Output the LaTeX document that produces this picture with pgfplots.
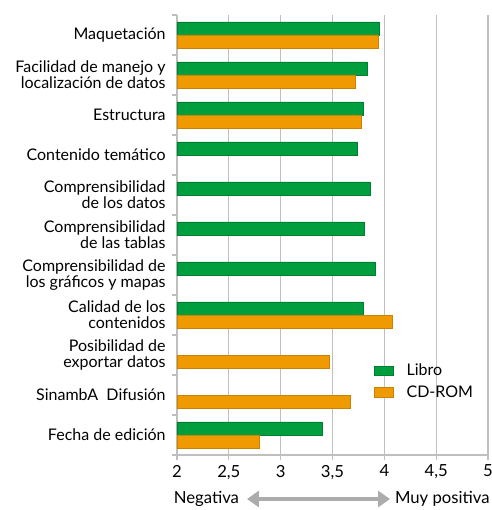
\documentclass[border=0pt]{standalone}
\usepackage{pgfplots}
\pgfplotsset{compat=1.18}
\usepackage{fontspec}
\setmainfont{Lato}
\usetikzlibrary{arrows.meta}
\definecolor{libro}{HTML}{009E3D}
\definecolor{cdrom}{HTML}{EE9A00}
\definecolor{gridg}{HTML}{BFBFBF}

\begin{document}
\begin{tikzpicture}
% canvas frame to fix the page size (492x510 px at 0.75pt/px)
\path[use as bounding box] (-132.75pt,-41.25pt) rectangle (236.25pt,341.25pt);
\begin{axis}[
    at={(0,0)}, anchor=south west,
    scale only axis, width=233.25pt, height=330pt,
    xbar, y dir=reverse,
    xmin=2, xmax=5, ymin=-0.5, ymax=10.5,
    xtick={2,2.5,...,5},
    /pgf/number format/use comma,
    /pgf/number format/assume math mode=true,
    xmajorgrids, major grid style={gridg, line width=0.8pt},
    axis x line*=bottom, axis y line*=left,
    axis line style={gridg, line width=0.8pt},
    x axis line style={-}, y axis line style={-},
    xtick style={gridg, line width=0.8pt},
    tick align=outside, major tick length=4pt,
    ytick={0,...,10},
    yticklabels={Maquetación,
      {Facilidad de manejo y\\localización de datos},
      Estructura, Contenido temático,
      {Comprensibilidad\\de los datos},
      {Comprensibilidad\\de las tablas},
      {Comprensibilidad de\\los gráficos y mapas},
      {Calidad de los\\contenidos},
      {Posibilidad de\\exportar datos},
      {SinambA\ \ Difusión}, Fecha de edición},
    yticklabel style={align=right, font=\fontsize{12pt}{12pt}\selectfont, xshift=-1pt},
    xticklabel style={font=\fontsize{12.5pt}{13pt}\selectfont},
    major y tick style={draw=none},
    minor ytick={-0.5,0.5,...,10.5},
    minor y tick style={gridg, line width=0.8pt},
    minor tick length=4pt,
    bar width=0.33,
    legend cell align=left,
    legend style={at={(0.62,0.22)}, anchor=north west, draw=none, fill=none,
      font=\fontsize{12pt}{12pt}\selectfont, row sep=2pt},
    legend image code/.code={\fill[#1] (0pt,-3.5pt) rectangle (14pt,3.5pt); \path (22pt,0pt);},
    clip=false,
]
\addplot[draw=libro!80!black, fill=libro, bar shift=-0.165] coordinates {
  (3.95,0) (3.84,1) (3.80,2) (3.74,3) (3.86,4) (3.81,5) (3.91,6)
  (3.80,7) (3.40,10)
};
\addplot[draw=cdrom!85!black, fill=cdrom, bar shift=0.165] coordinates {
  (3.94,0) (3.72,1) (3.78,2) (4.08,7) (3.47,8) (3.67,9) (2.79,10)
};
\legend{Libro, CD-ROM}
\node[anchor=west, font=\fontsize{12.5pt}{13pt}\selectfont] at (rel axis cs:-0.025,-0.1) {Negativa};
\node[anchor=east, font=\fontsize{12.5pt}{13pt}\selectfont] at (rel axis cs:1.02,-0.1) {Muy positiva};
\draw[gridg!90!black, line width=3.5pt, {Triangle[length=9pt,width=12pt]}-{Triangle[length=9pt,width=12pt]}]
  (rel axis cs:0.225,-0.1) -- (rel axis cs:0.685,-0.1);
\end{axis}
\end{tikzpicture}
\end{document}
